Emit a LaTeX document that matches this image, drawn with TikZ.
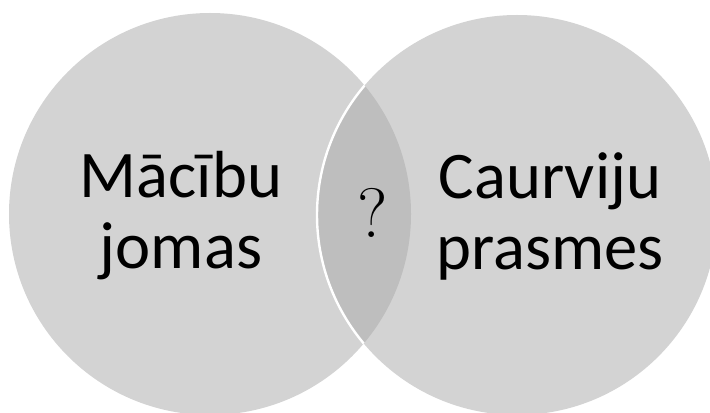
\documentclass[tikz,border=0pt]{standalone}
\usepackage{fontspec}
\newfontfamily\capfont{Carlito}
\definecolor{vennFill}{RGB}{211, 211, 211}
\definecolor{vennOverlap}{RGB}{190, 190, 190}

\begin{document}
\begin{tikzpicture}[
    x=0.5pt, y=0.5pt,
    % Set caption
    setlabel/.style={
        align=center,
        inner sep=0pt,
        font=\capfont\fontsize{33.3}{35.5}\selectfont
    }
]
    \useasboundingbox[fill=white] (0,0) rectangle (710,412);

    % The two sets
    \coordinate (domainsc) at (210,198);
    \coordinate (skillsc) at (517,197);
    \fill[vennFill] (domainsc) circle (201);
    \fill[vennFill] (skillsc) circle (200);

    % Overlap of both sets
    \begin{scope}
        \clip (domainsc) circle (201);
        \fill[vennOverlap] (skillsc) circle (200);
        \draw[white, line width=1.2pt] (skillsc) circle (200);
    \end{scope}

    % Captions
    \node (domains) [setlabel] at (181,196) {Mācību\\jomas};
    \node (skills) [setlabel] at (550,196) {Caurviju\\prasmes};
    \node (link) [inner sep=0pt, font=\fontsize{35}{37}\selectfont] at (373,199) {?};
\end{tikzpicture}
\end{document}
